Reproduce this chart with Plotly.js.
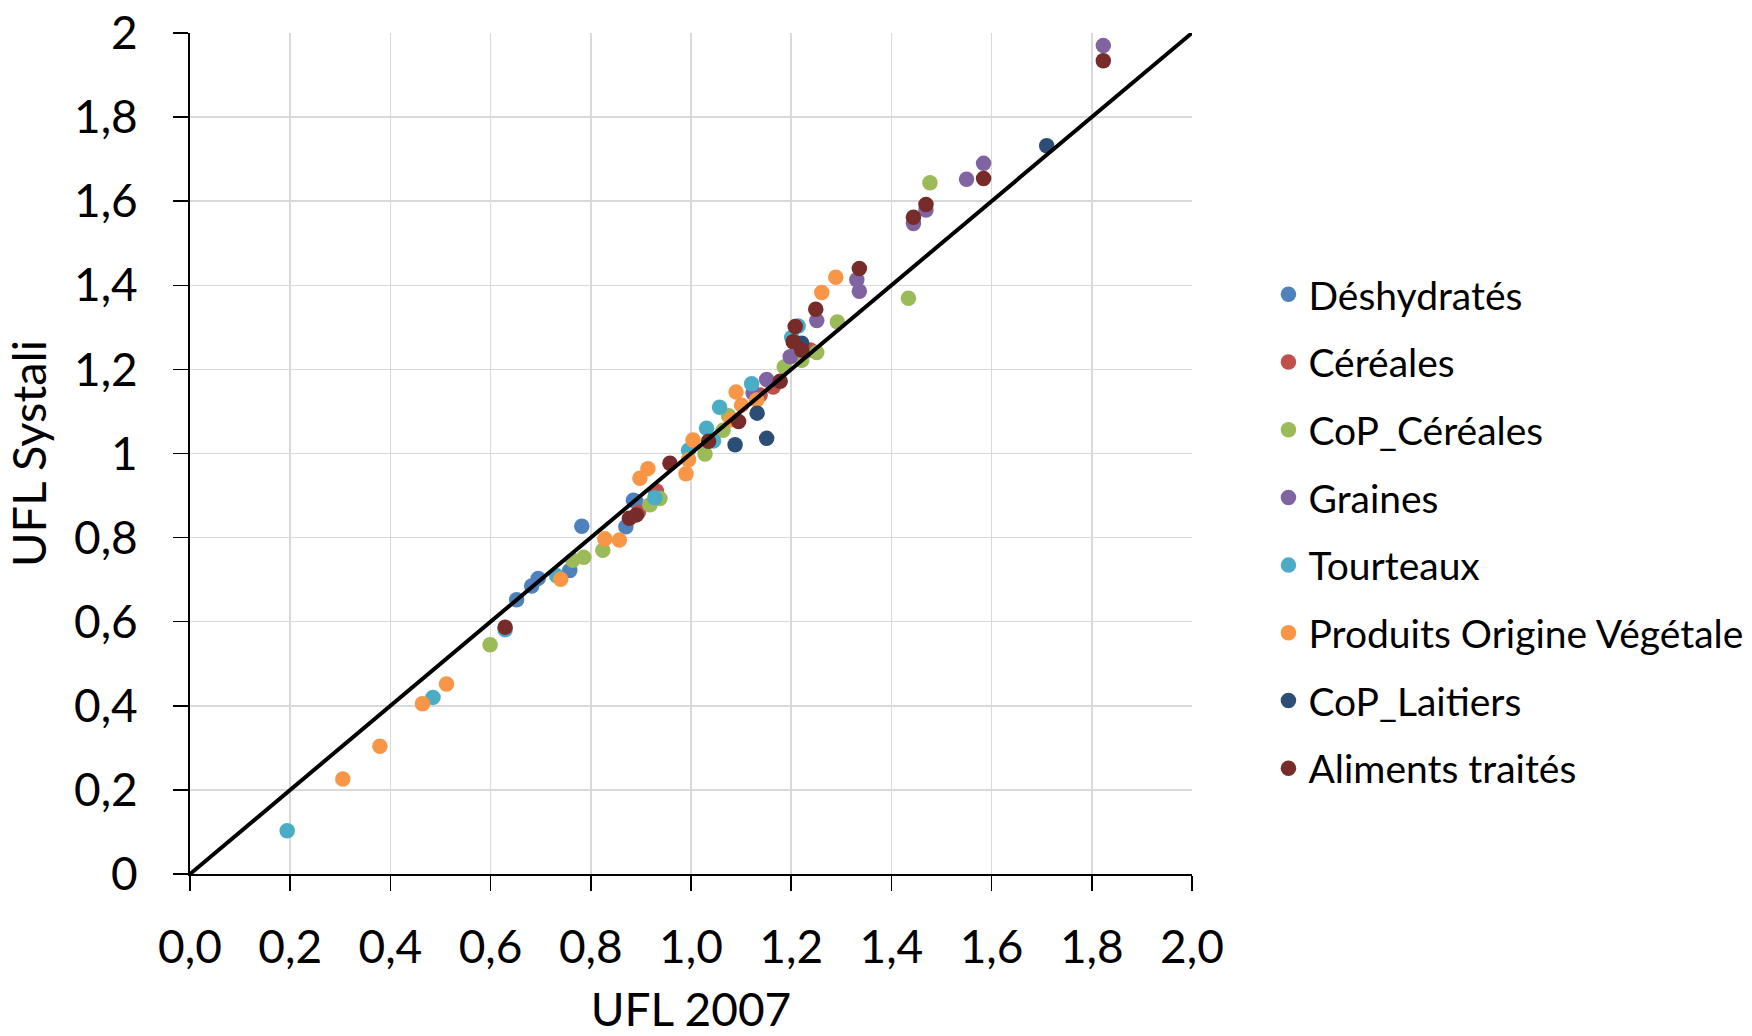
<!DOCTYPE html>
<html>
<head>
<meta charset="utf-8">
<script src="https://cdn.plot.ly/plotly-3.0.1.min.js"></script>
<style>html,body{margin:0;padding:0;background:#fff;}#chart{width:1752px;height:1036px;}</style>
</head>
<body>
<div id="chart"></div>
<script>
// ---- Data (UFL 2007 vs UFL Systali) ----
const seriesNames = ["Déshydratés","Céréales","CoP_Céréales","Graines","Tourteaux","Produits Origine Végétale","CoP_Laitiers","Aliments traités"];
const seriesColors = ["#4F81BD","#C0504D","#9BBB59","#8064A2","#4BACC6","#F79646","#2C4D75","#772C2A"];

const deshX = [0.652,0.682,0.695,0.758,0.782,0.870,0.885,0.890,0.930];
const deshY = [0.652,0.685,0.703,0.722,0.827,0.826,0.889,0.886,0.905];

const cerX = [0.895,0.931,1.138,1.164,1.215,1.238];
const cerY = [0.860,0.911,1.139,1.158,1.260,1.246];

const copCerX = [0.599,0.764,0.786,0.824,0.918,0.938,1.028,1.064,1.075,1.186,1.221,1.251,1.292,1.434,1.477];
const copCerY = [0.545,0.746,0.753,0.770,0.878,0.893,0.999,1.055,1.090,1.206,1.222,1.240,1.313,1.369,1.644];

const grainesX = [1.124,1.151,1.198,1.251,1.331,1.336,1.444,1.469,1.550,1.584,1.823];
const grainesY = [1.144,1.176,1.230,1.316,1.413,1.386,1.547,1.579,1.652,1.690,1.970];

const tourtX = [0.194,0.485,0.629,0.732,0.928,0.995,1.031,1.045,1.057,1.121,1.201,1.214];
const tourtY = [0.103,0.420,0.581,0.709,0.895,1.008,1.060,1.030,1.110,1.166,1.276,1.303];

const povX = [0.305,0.379,0.464,0.512,0.740,0.828,0.857,0.898,0.914,0.990,0.995,1.004,1.080,1.090,1.101,1.131,1.261,1.289];
const povY = [0.226,0.304,0.405,0.452,0.701,0.797,0.794,0.941,0.964,0.952,0.985,1.032,1.080,1.146,1.115,1.127,1.383,1.419];

const copLaitX = [1.088,1.132,1.151,1.221,1.710];
const copLaitY = [1.021,1.096,1.036,1.262,1.732];

const alimX = [0.629,0.877,0.891,0.958,1.035,1.095,1.178,1.204,1.208,1.221,1.249,1.336,1.444,1.469,1.584,1.823];
const alimY = [0.587,0.846,0.854,0.977,1.029,1.076,1.172,1.266,1.302,1.246,1.343,1.440,1.562,1.592,1.654,1.934];

const refLineX = [0, 2];
const refLineY = [0, 2];

const xTickVals = [0,0.2,0.4,0.6,0.8,1.0,1.2,1.4,1.6,1.8,2.0];
const xTickText = ["0,0","0,2","0,4","0,6","0,8","1,0","1,2","1,4","1,6","1,8","2,0"];
const yTickVals = [0,0.2,0.4,0.6,0.8,1.0,1.2,1.4,1.6,1.8,2.0];
const yTickText = ["0","0,2","0,4","0,6","0,8","1","1,2","1,4","1,6","1,8","2"];

const xTitle = "UFL 2007";
const yTitle = "UFL Systali";

// ---- Build traces ----
const allX = [deshX, cerX, copCerX, grainesX, tourtX, povX, copLaitX, alimX];
const allY = [deshY, cerY, copCerY, grainesY, tourtY, povY, copLaitY, alimY];

const FONT = "Lato, 'Open Sans', sans-serif";

const traces = seriesNames.map((name, i) => ({
  type: "scatter",
  mode: "markers",
  name: name,
  legendgroup: "g" + i,
  x: allX[i],
  y: allY[i],
  marker: { color: seriesColors[i], size: 15.5, line: { width: 0 } },
  hoverinfo: "x+y+name"
}));

traces.push({
  type: "scatter",
  mode: "lines",
  x: refLineX,
  y: refLineY,
  line: { color: "#000000", width: 4 },
  showlegend: false,
  hoverinfo: "skip"
});

const layout = {
  width: 1752,
  height: 1036,
  paper_bgcolor: "#ffffff",
  plot_bgcolor: "#ffffff",
  margin: { l: 190, r: 560, t: 33, b: 162, pad: 0 },
  font: { family: FONT, color: "#000000", size: 40 },
  showlegend: true,
  legend: {
    xref: "container", yref: "container",
    x: 0.724, y: 0.487, xanchor: "left", yanchor: "middle",
    bgcolor: "rgba(0,0,0,0)",
    font: { family: FONT, size: 39, color: "#000000" },
    traceorder: "grouped",
    tracegroupgap: 14,
    itemwidth: 30,
    maxheight: 1000
  },
  xaxis: {
    range: [0, 2],
    tickmode: "array",
    tickvals: xTickVals,
    ticktext: xTickText,
    showgrid: true,
    gridcolor: "#D9D9D9",
    gridwidth: 1.5,
    zeroline: false,
    showline: true,
    linecolor: "#000000",
    linewidth: 2,
    ticks: "outside",
    ticklen: 15,
    tickwidth: 1.5,
    tickcolor: "#000000",
    tickfont: { family: FONT, size: 46, color: "#000000" },
    ticklabelstandoff: 17,
    title: { text: xTitle, font: { family: FONT, size: 46, color: "#000000" }, standoff: 40 },
    fixedrange: true
  },
  yaxis: {
    range: [0, 2],
    tickmode: "array",
    tickvals: yTickVals,
    ticktext: yTickText,
    showgrid: true,
    gridcolor: "#D9D9D9",
    gridwidth: 1.5,
    zeroline: false,
    showline: true,
    linecolor: "#000000",
    linewidth: 2,
    ticks: "outside",
    ticklen: 15,
    tickwidth: 1.5,
    tickcolor: "#000000",
    tickfont: { family: FONT, size: 46, color: "#000000" },
    ticklabelstandoff: 26,
    title: { text: yTitle, font: { family: FONT, size: 47, color: "#000000" }, standoff: 16 },
    fixedrange: true
  }
};

Plotly.newPlot("chart", traces, layout, { displayModeBar: false, staticPlot: true });
</script>
</body>
</html>
